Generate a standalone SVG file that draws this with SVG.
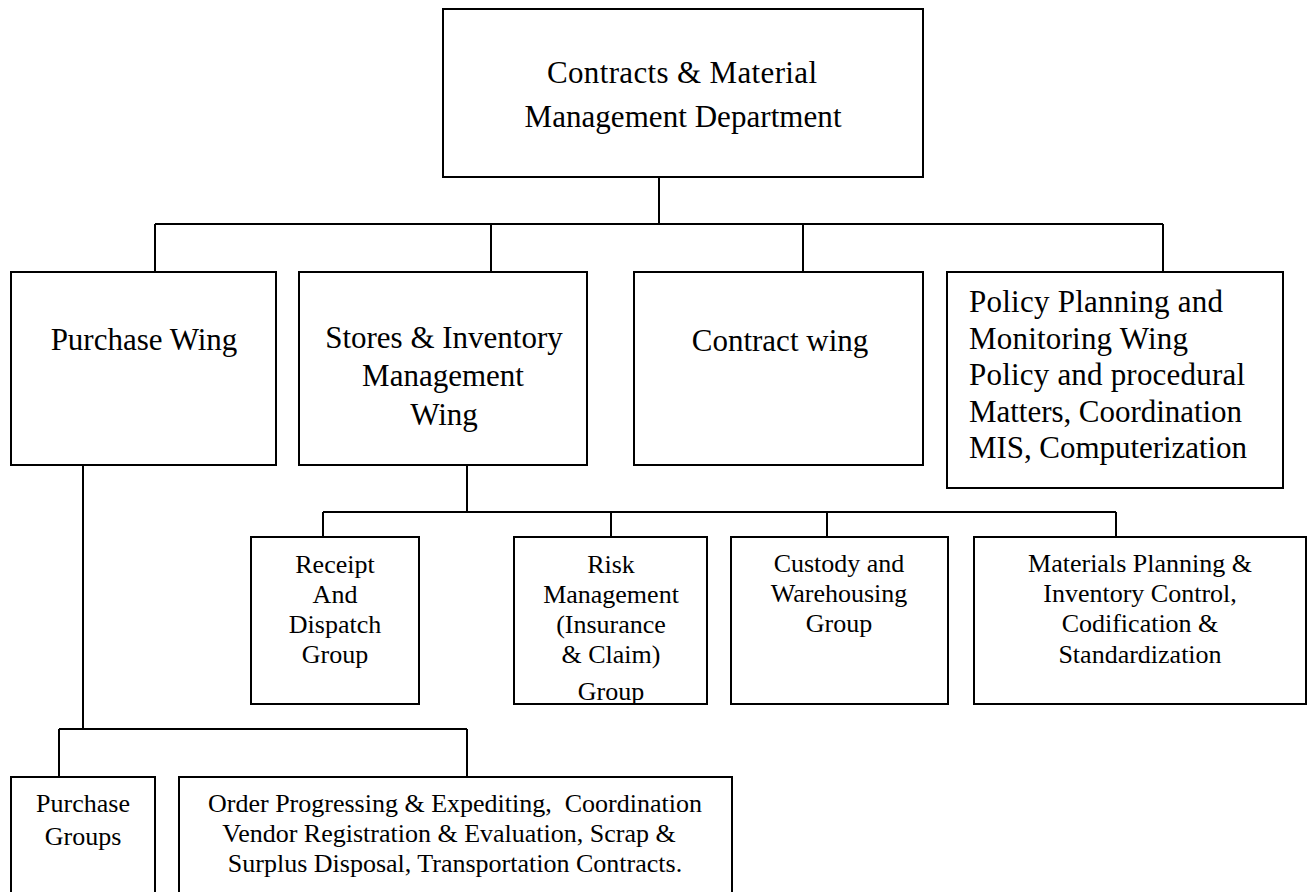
<svg xmlns="http://www.w3.org/2000/svg" width="1311" height="892" viewBox="0 0 1311 892">
<style>
.box{fill:#fff;stroke:#000;stroke-width:2}
.ln{fill:none;stroke:#000;stroke-width:2}
.t{font-family:'Liberation Serif','DejaVu Serif','Noto Serif',serif;fill:#000;text-anchor:middle}
.l1{font-size:31px}
.l2{font-size:31px}
.l3{font-size:26px}
.l4{font-size:26px}
.lt{text-anchor:start}
</style>
<defs>
<clipPath id="riskClip"><rect x="514" y="537" width="193" height="166"/></clipPath>
</defs>
<rect width="1311" height="892" fill="#fff"/>
<g id="connectors">
<path class="ln" d="M659 177V224M155 224H1163M155 224V272M491 224V272M803 224V272M1163 224V272"/>
<path class="ln" d="M467 465V512M323 512H1116M323 512V537M611 512V537M827 512V537M1116 512V537"/>
<path class="ln" d="M83 465V729M59 729H467M59 729V777M467 729V777"/>
</g>
<g id="dept">
<rect class="box" x="443" y="9" width="480" height="168"/>
<text class="t l1" x="682" y="83" textLength="270">Contracts &amp; Material</text>
<text class="t l1" x="683" y="127" textLength="317">Management Department</text>
</g>
<g id="purchase-wing">
<rect class="box" x="11" y="272" width="265" height="193"/>
<text class="t l2" x="144" y="350">Purchase Wing</text>
</g>
<g id="stores-wing">
<rect class="box" x="299" y="272" width="288" height="193"/>
<text class="t l2" x="444" y="348">Stores &amp; Inventory</text>
<text class="t l2" x="443" y="386">Management</text>
<text class="t l2" x="444" y="425">Wing</text>
</g>
<g id="contract-wing">
<rect class="box" x="634" y="272" width="289" height="193"/>
<text class="t l2" x="780" y="351">Contract wing</text>
</g>
<g id="policy-wing">
<rect class="box" x="947" y="272" width="336" height="216"/>
<text class="t l2 lt" x="969" y="312" textLength="254">Policy Planning and</text>
<text class="t l2 lt" x="969" y="349" textLength="219">Monitoring Wing</text>
<text class="t l2 lt" x="969" y="385" textLength="276">Policy and procedural</text>
<text class="t l2 lt" x="969" y="422" textLength="273">Matters, Coordination</text>
<text class="t l2 lt" x="969" y="458" textLength="278">MIS, Computerization</text>
</g>
<g id="receipt-group">
<rect class="box" x="251" y="537" width="168" height="167"/>
<text class="t l3" x="335" y="573">Receipt</text>
<text class="t l3" x="335" y="603">And</text>
<text class="t l3" x="335" y="633">Dispatch</text>
<text class="t l3" x="335" y="663">Group</text>
</g>
<g id="risk-group">
<rect class="box" x="514" y="537" width="193" height="167"/>
<text class="t l3" x="611" y="573">Risk</text>
<text class="t l3" x="611" y="603">Management</text>
<text class="t l3" x="611" y="633">(Insurance</text>
<text class="t l3" x="611" y="663">&amp; Claim)</text>
<text class="t l3" x="611" y="700" clip-path="url(#riskClip)">Group</text>
</g>
<g id="custody-group">
<rect class="box" x="731" y="537" width="217" height="167"/>
<text class="t l3" x="839" y="572">Custody and</text>
<text class="t l3" x="839" y="602">Warehousing</text>
<text class="t l3" x="839" y="632">Group</text>
</g>
<g id="materials-group">
<rect class="box" x="974" y="537" width="332" height="167"/>
<text class="t l3" x="1140" y="572">Materials Planning &amp;</text>
<text class="t l3" x="1140" y="602">Inventory Control,</text>
<text class="t l3" x="1140" y="632">Codification &amp;</text>
<text class="t l3" x="1140" y="663">Standardization</text>
</g>
<g id="purchase-groups">
<rect class="box" x="11" y="777" width="144" height="130"/>
<text class="t l4" x="83" y="812">Purchase</text>
<text class="t l4" x="83" y="845">Groups</text>
</g>
<g id="order-progressing">
<rect class="box" x="179" y="777" width="553" height="130"/>
<text class="t l4" x="455" y="812" xml:space="preserve">Order Progressing &amp; Expediting,  Coordination</text>
<text class="t l4" x="449" y="842">Vendor Registration &amp; Evaluation, Scrap &amp;</text>
<text class="t l4" x="455" y="872">Surplus Disposal, Transportation Contracts.</text>
</g>
</svg>
